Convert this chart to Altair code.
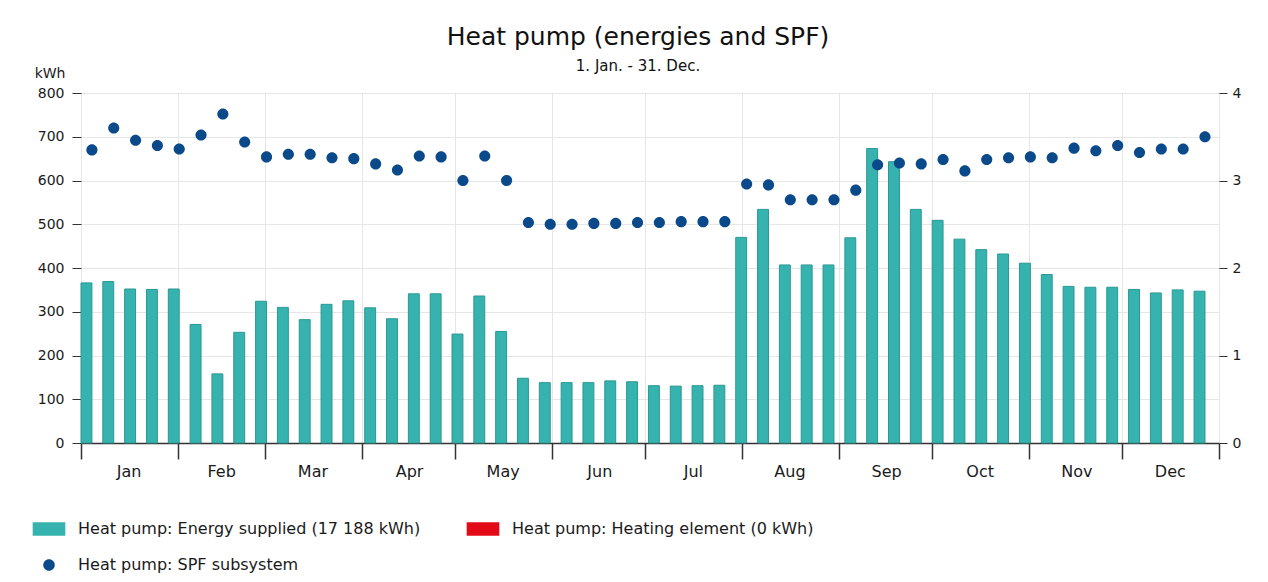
import altair as alt
import pandas as pd

FONT = "DejaVu Sans"

# ---- data ----
months = ["Jan", "Feb", "Mar", "Apr", "May", "Jun", "Jul", "Aug", "Sep", "Oct", "Nov", "Dec"]
month_start_days = [0, 31, 59, 90, 120, 151, 181, 212, 243, 273, 304, 334, 365]

# weekly energy supplied by the heat pump (kWh), 52 weeks
energy_kwh = [366, 369, 352, 351, 352, 271, 158, 253, 324, 310,
              282, 317, 325, 309, 284, 341, 341, 249, 336, 255,
              148, 138, 138, 138, 142, 140, 131, 130, 131, 132,
              470, 534, 407, 407, 407, 469, 673, 643, 534, 509,
              466, 442, 432, 411, 385, 358, 356, 356, 351, 343,
              350, 347]

# weekly heating element energy (kWh) - zero all year
heating_kwh = [0] * 52

# weekly SPF of the subsystem
spf = [3.35, 3.60, 3.46, 3.40, 3.36, 3.52, 3.76, 3.44, 3.27, 3.30,
       3.30, 3.26, 3.25, 3.19, 3.12, 3.28, 3.27, 3.00, 3.28, 3.00,
       2.52, 2.50, 2.50, 2.51, 2.51, 2.52, 2.52, 2.53, 2.53, 2.53,
       2.96, 2.95, 2.78, 2.78, 2.78, 2.89, 3.18, 3.20, 3.19, 3.24,
       3.11, 3.24, 3.26, 3.27, 3.26, 3.37, 3.34, 3.40, 3.32, 3.36,
       3.36, 3.50]

L_E = "Heat pump: Energy supplied (17 188 kWh)"
L_H = "Heat pump: Heating element (0 kWh)"
L_S = "Heat pump: SPF subsystem"
series_labels = [L_E, L_H, L_S]
series_colors = ["#36b3ae", "#e30a17", "#0b4a8a"]

WEEK = 7
HALF = 3.5

rows = []
for i, v in enumerate(energy_kwh):
    rows.append({"series": L_E, "start": i * WEEK, "end": i * WEEK + HALF, "value": v, "base": 0})
for i, v in enumerate(heating_kwh):
    rows.append({"series": L_H, "start": i * WEEK + HALF, "end": (i + 1) * WEEK, "value": v, "base": 0})
bars_df = pd.DataFrame(rows)

pts_df = pd.DataFrame({
    "series": [L_S] * len(spf),
    "mid": [i * WEEK + HALF for i in range(len(spf))],
    "spf": spf,
})

# ---- scales / axes ----
RECT = "M-2.04,-0.83H2.04V0.83H-2.04Z"
CIRC = "M0.72,0A0.72,0.72,0,1,1,-0.72,0A0.72,0.72,0,1,1,0.72,0Z"

color_scale = alt.Scale(domain=series_labels, range=series_colors)
shape_scale = alt.Scale(domain=series_labels, range=[RECT, RECT, CIRC])

label_expr = ""
for d, m in zip(month_start_days[:-1], months):
    label_expr += f"datum.value == {d} ? '{m}' : "
label_expr += "''"

xscale = alt.Scale(domain=[0, 365], nice=False, zero=False)
xaxis = alt.Axis(
    values=month_start_days, labelExpr=label_expr, title=None,
    labelOffset={"condition": {"test": "datum.value == 31", "value": 43.5}, "value": 47.5},
    labelFlush=False, labelOverlap=False, labelBound=False,
    tickSize=16, tickWidth=1.5, tickColor="#333333",
    domainColor="#333333", domainWidth=1.5,
    grid=True, gridColor="#e6e6e6",
    labelPadding=4, labelFont=FONT, labelFontSize=16, labelColor="#1a1a1a",
)

left_axis = alt.Axis(
    values=list(range(0, 801, 100)), title="kWh", titleAngle=0,
    titleAlign="right", titleBaseline="alphabetic", titleX=-16, titleY=-16,
    titleFont=FONT, titleFontSize=14, titleFontWeight="normal", titleColor="#1a1a1a",
    labelFont=FONT, labelFontSize=14, labelColor="#1a1a1a", labelPadding=8,
    tickSize=9, tickColor="#333333", domain=False,
    grid=True, gridColor="#e6e6e6",
)

right_axis = alt.Axis(
    orient="right", values=[0, 1, 2, 3, 4], title=None, format="d",
    labelFont=FONT, labelFontSize=14, labelColor="#1a1a1a", labelPadding=5,
    tickSize=8, tickColor="#333333", domain=False, grid=False,
)

legend = alt.Legend(
    title=None, orient="none", legendX=-40, legendY=428,
    direction="horizontal", values=series_labels,
    columns=2, columnPadding=45, rowPadding=20, gridAlign="each",
    symbolSize=256, symbolStrokeWidth=0, labelOffset=21,
    labelFont=FONT, labelFontSize=16, labelColor="#1a1a1a", labelLimit=800,
)

bars = alt.Chart(bars_df).mark_bar(strokeWidth=1).encode(
    x=alt.X("start:Q", scale=xscale, axis=xaxis),
    x2="end:Q",
    y=alt.Y("value:Q", scale=alt.Scale(domain=[0, 800], nice=False), axis=left_axis),
    y2="base:Q",
    color=alt.Color("series:N", scale=color_scale, legend=legend),
    stroke=alt.condition("datum.value > 0", alt.value("#2a9893"), alt.value("transparent")),
)

pts = alt.Chart(pts_df).mark_point(filled=True, opacity=1, size=240).encode(
    x=alt.X("mid:Q", scale=xscale, axis=xaxis),
    y=alt.Y("spf:Q", scale=alt.Scale(domain=[0, 4], nice=False), axis=right_axis),
    color=alt.Color("series:N", scale=color_scale, legend=legend),
    shape=alt.Shape("series:N", scale=shape_scale, legend=legend),
)

chart = alt.layer(bars, pts).resolve_scale(y="independent").properties(
    width=1138, height=350,
    autosize=alt.AutoSizeParams(type="none"),
    padding={"left": 73, "top": 85, "right": 35, "bottom": 131},
    title=alt.TitleParams(
        text="Heat pump (energies and SPF)", subtitle="1. Jan. - 31. Dec.",
        anchor="middle", dx=-12, offset=-8, subtitlePadding=9,
        font=FONT, fontSize=25, fontWeight="normal", color="#111111",
        subtitleFont=FONT, subtitleFontSize=15, subtitleColor="#111111",
    ),
).configure_view(stroke=None).configure(background="white")

chart.save("out.html", embed_options={"renderer": "svg", "actions": False})
